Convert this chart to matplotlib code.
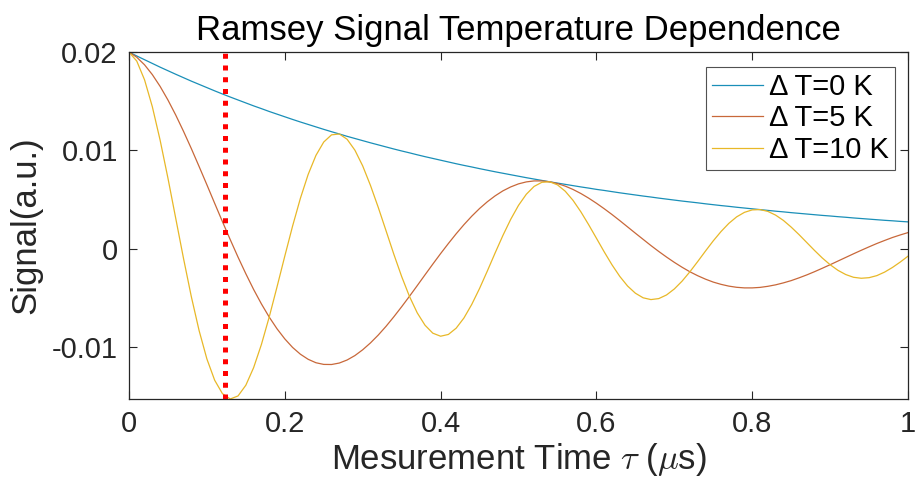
import matplotlib
matplotlib.use("Agg")
import matplotlib.pyplot as plt
import numpy as np

# 測定時間 (us)
t = np.arange(0, 101) / 100.0

# ΔT=0 K
sig_0K = [0.02000, 0.01960, 0.01922, 0.01884, 0.01846, 0.01810, 0.01774, 0.01739, 0.01704, 0.01671,
          0.01638, 0.01605, 0.01573, 0.01542, 0.01512, 0.01482, 0.01452, 0.01424, 0.01395, 0.01368,
          0.01341, 0.01314, 0.01288, 0.01263, 0.01238, 0.01213, 0.01189, 0.01166, 0.01142, 0.01120,
          0.01098, 0.01076, 0.01055, 0.01034, 0.01013, 0.00993, 0.00974, 0.00954, 0.00935, 0.00917,
          0.00899, 0.00881, 0.00863, 0.00846, 0.00830, 0.00813, 0.00797, 0.00781, 0.00766, 0.00751,
          0.00736, 0.00721, 0.00707, 0.00693, 0.00679, 0.00666, 0.00653, 0.00640, 0.00627, 0.00615,
          0.00602, 0.00591, 0.00579, 0.00567, 0.00556, 0.00545, 0.00534, 0.00524, 0.00513, 0.00503,
          0.00493, 0.00483, 0.00474, 0.00465, 0.00455, 0.00446, 0.00437, 0.00429, 0.00420, 0.00412,
          0.00404, 0.00396, 0.00388, 0.00380, 0.00373, 0.00365, 0.00358, 0.00351, 0.00344, 0.00337,
          0.00331, 0.00324, 0.00318, 0.00311, 0.00305, 0.00299, 0.00293, 0.00287, 0.00282, 0.00276,
          0.00271]

# ΔT=5 K
sig_5K = [0.02000, 0.01947, 0.01870, 0.01770, 0.01650, 0.01512, 0.01359, 0.01193, 0.01018, 0.00835,
          0.00649, 0.00460, 0.00273, 0.00090, -0.00088, -0.00257, -0.00417, -0.00564, -0.00698, -0.00817,
          -0.00920, -0.01007, -0.01076, -0.01128, -0.01163, -0.01180, -0.01181, -0.01166, -0.01135, -0.01090,
          -0.01031, -0.00961, -0.00881, -0.00792, -0.00695, -0.00593, -0.00487, -0.00378, -0.00268, -0.00159,
          -0.00052, 0.00051, 0.00150, 0.00243, 0.00329, 0.00407, 0.00476, 0.00536, 0.00587, 0.00627,
          0.00658, 0.00678, 0.00688, 0.00688, 0.00679, 0.00661, 0.00635, 0.00601, 0.00560, 0.00513,
          0.00461, 0.00405, 0.00346, 0.00284, 0.00220, 0.00156, 0.00093, 0.00030, -0.00030, -0.00087,
          -0.00141, -0.00191, -0.00237, -0.00277, -0.00312, -0.00342, -0.00365, -0.00383, -0.00395, -0.00401,
          -0.00401, -0.00396, -0.00385, -0.00370, -0.00350, -0.00327, -0.00299, -0.00269, -0.00236, -0.00201,
          -0.00165, -0.00128, -0.00091, -0.00054, -0.00018, 0.00017, 0.00051, 0.00082, 0.00112, 0.00138,
          0.00162]

# ΔT=10 K
sig_10K = [0.02000, 0.01908, 0.01717, 0.01443, 0.01102, 0.00717, 0.00308, -0.00101, -0.00489, -0.00835,
           -0.01124, -0.01341, -0.01478, -0.01532, -0.01501, -0.01392, -0.01213, -0.00977, -0.00698, -0.00392,
           -0.00078, 0.00228, 0.00510, 0.00754, 0.00948, 0.01084, 0.01157, 0.01166, 0.01112, 0.01001,
           0.00841, 0.00642, 0.00418, 0.00180, -0.00059, -0.00285, -0.00487, -0.00655, -0.00781, -0.00862,
           -0.00893, -0.00875, -0.00811, -0.00707, -0.00569, -0.00407, -0.00229, -0.00045, 0.00133, 0.00297,
           0.00439, 0.00552, 0.00632, 0.00674, 0.00679, 0.00648, 0.00583, 0.00490, 0.00374, 0.00243,
           0.00105, -0.00034, -0.00166, -0.00284, -0.00382, -0.00455, -0.00502, -0.00520, -0.00510, -0.00473,
           -0.00412, -0.00332, -0.00237, -0.00133, -0.00026, 0.00078, 0.00173, 0.00256, 0.00322, 0.00368,
           0.00393, 0.00396, 0.00378, 0.00340, 0.00286, 0.00218, 0.00142, 0.00061, -0.00020, -0.00097,
           -0.00165, -0.00222, -0.00265, -0.00293, -0.00303, -0.00297, -0.00276, -0.00240, -0.00193, -0.00138,
           -0.00078]

labels = ['Δ T=0 K', 'Δ T=5 K', 'Δ T=10 K']
tau_mark = 0.123  # 赤い点線の位置

plt.rcParams['font.family'] = ['Liberation Sans', 'DejaVu Sans']
plt.rcParams['mathtext.fontset'] = 'cm'

fig = plt.figure(figsize=(9.16, 4.91), dpi=100)
ax = fig.add_axes([0.1408, 0.1874, 0.8505, 0.7066])

ax.plot(t, sig_0K, color='#1a8fb8', lw=0.9, label=labels[0])
ax.plot(t, sig_5K, color='#c8683a', lw=0.9, label=labels[1])
ax.plot(t, sig_10K, color='#e8b828', lw=0.9, label=labels[2])

ymin = min(min(sig_0K), min(sig_5K), min(sig_10K))
ax.plot([tau_mark, tau_mark], [ymin, 0.02], color='red', lw=3.6,
        linestyle=(0, (1, 1.35)), solid_capstyle='butt', dash_capstyle='butt')

ax.set_xlim(0, 1)
ax.set_ylim(ymin, 0.02)
ax.set_xticks([0, 0.2, 0.4, 0.6, 0.8, 1])
ax.set_xticklabels(['0', '0.2', '0.4', '0.6', '0.8', '1'])
ax.set_yticks([-0.01, 0, 0.01, 0.02])
ax.set_yticklabels(['-0.01', '0', '0.01', '0.02'])
ax.tick_params(direction='in', length=6, width=0.8, top=True, right=True,
               labelsize=21, colors='#262626', pad=8)
for s in ax.spines.values():
    s.set_color('#262626')
    s.set_linewidth(0.9)

ax.set_title('Ramsey Signal Temperature Dependence', fontsize=25, color='black', pad=9)
ax.set_xlabel(r'Mesurement Time $\tau$ ($\mu$s)', fontsize=25, color='#262626', labelpad=2)
ax.set_ylabel('Signal(a.u.)', fontsize=25, color='#262626', labelpad=7)

leg = ax.legend(loc='upper right', fontsize=21, frameon=True, fancybox=False,
                edgecolor='#262626', handlelength=1.75, handletextpad=0.2,
                labelspacing=0.12, borderpad=0.2, borderaxespad=0,
                bbox_to_anchor=(0.983, 0.957))
leg.get_frame().set_linewidth(0.8)

plt.savefig('out.png', dpi=100)
